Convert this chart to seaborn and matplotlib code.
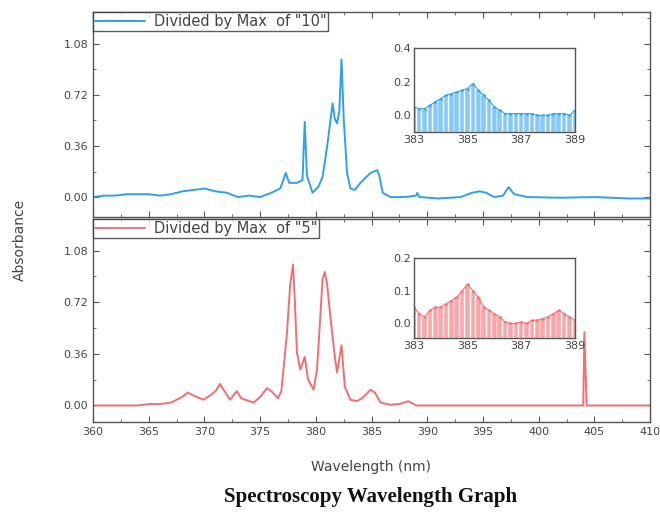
import matplotlib
matplotlib.use("Agg")
import matplotlib.pyplot as plt
import seaborn as sns
import pandas as pd
from matplotlib.ticker import AutoMinorLocator

# ---------------- data ----------------
blue_wl = [360.0, 361.0, 362.0, 363.0, 364.0, 365.0, 366.0, 367.0, 368.0, 369.0, 370.0,
           371.0, 372.0, 373.0, 374.0, 375.0, 376.0, 376.8, 377.3, 377.6, 378.3, 378.8,
           379.0, 379.2, 379.7, 380.2, 380.6, 381.0, 381.5, 381.7, 381.9, 382.1, 382.3,
           382.5, 382.8, 383.1, 383.5, 384.0, 384.9, 385.5, 385.7, 386.0, 386.7, 388.0,
           389.0, 389.1, 389.3, 391.0, 393.0, 394.0, 394.7, 395.3, 396.0, 396.8, 397.3,
           397.8, 399.0, 402.0, 405.0, 408.0, 410.0]
blue_abs = [0.00, 0.01, 0.01, 0.02, 0.02, 0.02, 0.01, 0.02, 0.04, 0.05, 0.06,
            0.04, 0.03, 0.00, 0.01, 0.00, 0.03, 0.06, 0.17, 0.10, 0.10, 0.12,
            0.53, 0.15, 0.03, 0.07, 0.14, 0.35, 0.66, 0.55, 0.52, 0.60, 0.97,
            0.55, 0.17, 0.06, 0.05, 0.10, 0.17, 0.19, 0.15, 0.03, 0.00, 0.00,
            0.01, 0.03, 0.00, -0.01, 0.00, 0.03, 0.04, 0.03, 0.00, 0.01, 0.07,
            0.02, 0.00, -0.005, 0.00, -0.01, -0.01]

red_wl = [360.0, 362.0, 364.0, 365.0, 366.0, 367.0, 368.0, 368.5, 369.0, 369.9, 370.5,
          371.0, 371.4, 371.8, 372.3, 372.9, 373.3, 374.4, 375.0, 375.6, 376.0, 376.6,
          376.9, 377.4, 377.7, 377.95, 378.1, 378.3, 378.6, 379.0, 379.3, 379.8, 380.1,
          380.4, 380.6, 380.8, 381.0, 381.3, 381.7, 381.9, 382.3, 382.6, 383.1, 383.7,
          384.3, 384.9, 385.3, 385.8, 386.7, 387.5, 388.3, 389.0, 392.0, 396.0, 400.0,
          404.0, 404.1, 404.3, 407.0, 410.0]
red_abs = [0.00, 0.00, 0.00, 0.01, 0.01, 0.02, 0.06, 0.09, 0.07, 0.04, 0.07,
           0.10, 0.15, 0.10, 0.04, 0.10, 0.05, 0.02, 0.06, 0.12, 0.10, 0.05,
           0.10, 0.50, 0.85, 0.98, 0.75, 0.37, 0.25, 0.34, 0.18, 0.11, 0.25,
           0.62, 0.88, 0.93, 0.85, 0.62, 0.34, 0.23, 0.42, 0.13, 0.04, 0.03,
           0.06, 0.11, 0.09, 0.02, 0.005, 0.01, 0.03, 0.00, 0.00, 0.00, 0.00,
           0.00, 0.51, 0.00, 0.00, 0.00]

inset_wl = [383.0, 383.2, 383.4, 383.6, 383.8, 384.0, 384.2, 384.4, 384.6, 384.8, 385.0,
            385.2, 385.4, 385.6, 385.8, 386.0, 386.2, 386.4, 386.6, 386.8, 387.0, 387.2,
            387.4, 387.6, 387.8, 388.0, 388.2, 388.4, 388.6, 388.8, 389.0]
inset_blue = [0.05, 0.04, 0.04, 0.06, 0.08, 0.10, 0.12, 0.13, 0.14, 0.15, 0.16,
              0.19, 0.15, 0.12, 0.09, 0.05, 0.03, 0.01, 0.01, 0.01, 0.01, 0.01,
              0.01, 0.00, 0.00, 0.00, 0.01, 0.01, 0.01, 0.00, 0.03]
inset_red = [0.05, 0.03, 0.02, 0.04, 0.05, 0.05, 0.06, 0.07, 0.08, 0.10, 0.12,
             0.10, 0.08, 0.05, 0.04, 0.03, 0.02, 0.005, 0.00, 0.00, 0.005, 0.00,
             0.01, 0.01, 0.015, 0.02, 0.03, 0.04, 0.03, 0.02, 0.01]

x_ticks = [360, 365, 370, 375, 380, 385, 390, 395, 400, 405, 410]
y_ticks = [0.00, 0.36, 0.72, 1.08]
y_ticklabels = ["0.00", "0.36", "0.72", "1.08"]
inset_xticks = [383, 385, 387, 389]
inset_blue_yticks = [0.0, 0.2, 0.4]
inset_red_yticks = [0.0, 0.1, 0.2]

BLUE = "#2f9ff0"
RED = "#f56d70"
BLUE_BAR = "#86c9f6"
RED_BAR = "#f8a6a8"
TXT = "#444444"

sns.set_style("white")
plt.rcParams['font.family'] = ['DejaVu Sans']

fig = plt.figure(figsize=(6.6, 5.14), dpi=100)
ax_top = fig.add_axes([0.141, 0.578, 0.844, 0.399])
ax_bot = fig.add_axes([0.141, 0.179, 0.844, 0.395])

df_blue = pd.DataFrame({"wl": blue_wl, "abs": blue_abs})
df_red = pd.DataFrame({"wl": red_wl, "abs": red_abs})

sns.lineplot(data=df_blue, x="wl", y="abs", ax=ax_top, color=BLUE, lw=1.4,
             label='Divided by Max  of "10"', sort=False)
sns.lineplot(data=df_red, x="wl", y="abs", ax=ax_bot, color=RED, lw=1.4,
             label='Divided by Max  of "5"', sort=False)

for ax, ylim in ((ax_top, (-0.14, 1.306)), (ax_bot, (-0.115, 1.30))):
    ax.set_xlim(360, 410)
    ax.set_ylim(*ylim)
    ax.set_xticks(x_ticks)
    ax.set_yticks(y_ticks)
    ax.set_yticklabels(y_ticklabels)
    ax.xaxis.set_minor_locator(AutoMinorLocator(2))
    ax.yaxis.set_minor_locator(AutoMinorLocator(2))
    ax.tick_params(which="both", direction="in", top=True, right=True,
                   bottom=True, left=True, colors="#555555", labelcolor=TXT,
                   labelsize=8)
    ax.tick_params(which="major", length=4, width=0.8)
    ax.tick_params(which="minor", length=2.5, width=0.6)
    for s in ax.spines.values():
        s.set_color("#555555")
        s.set_linewidth(1.0)
    ax.set_xlabel("")
    ax.set_ylabel("")
    leg = ax.legend(loc="upper left", bbox_to_anchor=(0.0, 1.0), borderaxespad=0.0,
                    fontsize=10.5, handlelength=3.4, frameon=True, fancybox=False,
                    borderpad=0.15, handletextpad=0.6)
    leg.get_frame().set_edgecolor("#333333")
    leg.get_frame().set_linewidth(1.0)
    for t in leg.get_texts():
        t.set_color(TXT)
ax_top.tick_params(labelbottom=False)

# insets
def draw_inset(rect, vals, bar_color, line_color, ylim, yticks, ylabels):
    ia = fig.add_axes(rect)
    base = ylim[0]
    ia.bar(inset_wl, [v - base for v in vals], bottom=base, width=0.17,
           color=bar_color, edgecolor="white", linewidth=0.3, zorder=1)
    sns.lineplot(x=inset_wl, y=vals, ax=ia, color=line_color, lw=0.8,
                 marker="o", markersize=1.8, markeredgewidth=0, zorder=2)
    ia.set_xlim(383, 389)
    ia.set_ylim(*ylim)
    ia.set_xticks(inset_xticks)
    ia.set_yticks(yticks)
    ia.set_yticklabels(ylabels)
    ia.tick_params(direction="in", length=3, labelsize=8, colors="#555555",
                   labelcolor=TXT, pad=2)
    for s in ia.spines.values():
        s.set_color("#555555")
        s.set_linewidth(1.0)
    ia.set_facecolor("white")
    return ia

draw_inset([0.627, 0.743, 0.244, 0.163], inset_blue, BLUE_BAR, BLUE,
           (-0.10, 0.4), inset_blue_yticks, ["0.0", "0.2", "0.4"])
draw_inset([0.627, 0.342, 0.244, 0.156], inset_red, RED_BAR, RED,
           (-0.045, 0.2), inset_red_yticks, ["0.0", "0.1", "0.2"])

fig.text(0.030, 0.533, "Absorbance", rotation=90, ha="center", va="center",
         fontsize=10, color=TXT)
fig.text(0.562, 0.091, "Wavelength (nm)", ha="center", va="center",
         fontsize=10, color=TXT)
fig.text(0.562, 0.033, "Spectroscopy Wavelength Graph", ha="center", va="center",
         fontsize=15, fontweight="bold", color="#111111",
         family=["Liberation Serif", "DejaVu Serif"])

fig.savefig("out.png", dpi=100)
